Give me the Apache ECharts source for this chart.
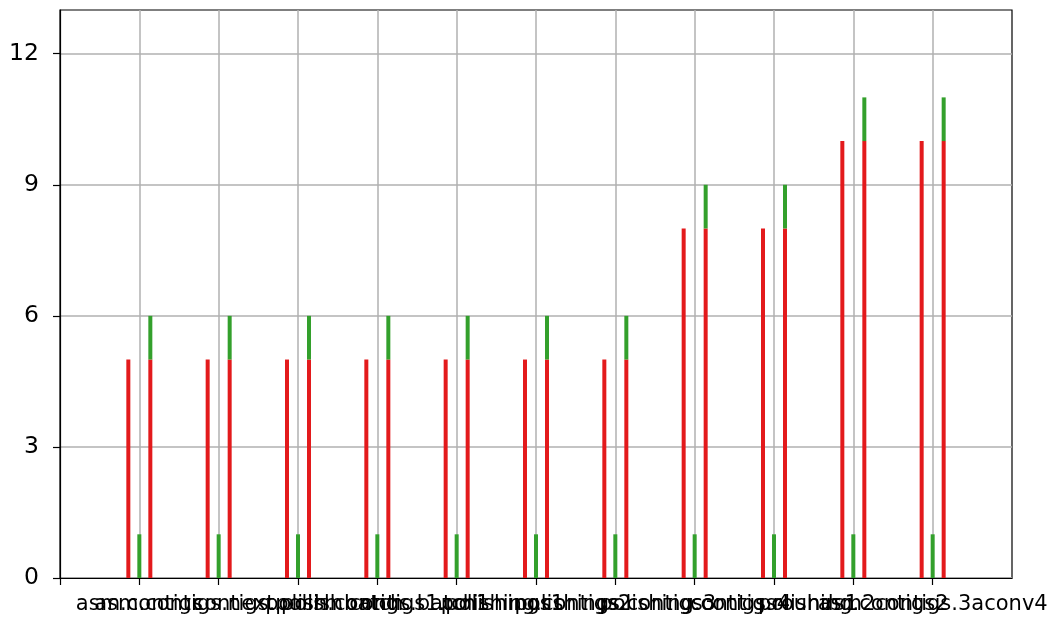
<!DOCTYPE html>
<html>
<head>
<meta charset="utf-8">
<script src="https://cdn.jsdelivr.net/npm/echarts@6/dist/echarts.min.js"></script>
<style>
html,body{margin:0;padding:0;background:#fff;}
#chart{width:1051px;height:619px;}
</style>
</head>
<body>
<div id="chart"></div>
<script>
// ---- data ----
const categories = [
  'asm.contigs',
  'asm.contigs.next.polish',
  'contigs.polish.batch',
  'polish.contigs.batch1',
  'contigs1.polishings1',
  'polishing.contigs2',
  'polishings.contigs3',
  'polishing.contigs4',
  'contigs.rounds1',
  'polishing.contigs2',
  'asm2contigs.3aconv4'
];
const redValues   = [5, 5, 5, 5, 5, 5, 5, 8, 8, 10, 10];
const greenValues = [1, 1, 1, 1, 1, 1, 1, 1, 1, 1, 1];
const stackRedValues   = [5, 5, 5, 5, 5, 5, 5, 8, 8, 10, 10];
const stackGreenValues = [1, 1, 1, 1, 1, 1, 1, 1, 1, 1, 1];
const yTicks = [0, 3, 6, 9, 12];

// padded categories: one empty slot on each side (axis runs from -1 to 11)
const axisCats = [''].concat(categories, ['']);
const pad = arr => ['-'].concat(arr, ['-']);

const RED = '#e31a1c', GREEN = '#33a02c';
const chart = echarts.init(document.getElementById('chart'), null, {renderer: 'canvas'});
const lastIdx = axisCats.length - 1;

chart.setOption({
  animation: false,
  backgroundColor: '#fff',
  textStyle: {fontFamily: 'DejaVu Sans'},
  grid: {left: 60, right: 39, top: 10, bottom: 41, show: true, borderColor: '#000', borderWidth: 1.2, backgroundColor: 'transparent'},
  xAxis: {
    type: 'category',
    data: axisCats,
    boundaryGap: false,
    axisLine: {show: true, lineStyle: {color: '#000', width: 1.2}},
    axisTick: {show: true, length: 7, lineStyle: {color: '#000', width: 1.2},
      interval: (i) => i < lastIdx, alignWithLabel: true},
    axisLabel: {interval: 0, color: '#000', fontSize: 21, margin: 16, fontFamily: 'DejaVu Sans', hideOverlap: false},
    splitLine: {show: true, interval: (i) => i > 0 && i < lastIdx, lineStyle: {color: '#b0b0b0', width: 1.5}}
  },
  yAxis: {
    type: 'value',
    min: 0, max: 13,
    axisLine: {show: true, lineStyle: {color: '#000', width: 1.2}},
    axisTick: {show: true, length: 7, lineStyle: {color: '#000', width: 1.2}, customValues: yTicks},
    axisLabel: {color: '#000', fontSize: 23.5, margin: 21, fontFamily: 'DejaVu Sans', customValues: yTicks},
    splitLine: {show: true, lineStyle: {color: '#b0b0b0', width: 1.5}}
  },
  series: [
    {type: 'bar', name: 'a', data: pad(redValues), barWidth: 4, barGap: '175%', itemStyle: {color: RED}, z: 3},
    {type: 'bar', name: 'b', data: pad(greenValues), barWidth: 4, barGap: '175%', itemStyle: {color: GREEN}, z: 3},
    {type: 'bar', name: 'c', stack: 's', data: pad(stackRedValues), barWidth: 4, barGap: '175%', itemStyle: {color: RED}, z: 3},
    {type: 'bar', name: 'd', stack: 's', data: pad(stackGreenValues), barWidth: 4, barGap: '175%', itemStyle: {color: GREEN}, z: 3}
  ]
});
</script>
</body>
</html>
